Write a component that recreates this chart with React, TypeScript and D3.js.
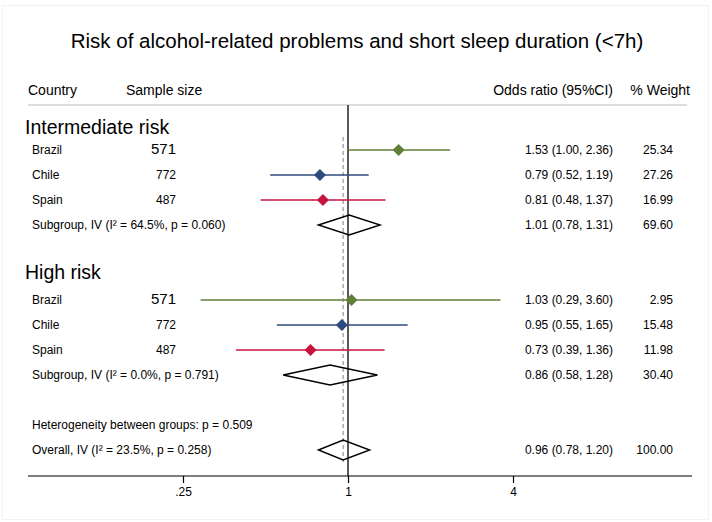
import React, { useEffect, useRef } from 'react';
import * as d3 from 'd3';

const countries = ['Brazil', 'Chile', 'Spain'];
const sampleSizes = ['571', '772', '487'];
const countryColors = ['#5f7f3a', '#2c4a7e', '#c8133f'];

const groups = ['Intermediate risk', 'High risk'];
const orIntermediate = [1.53, 0.79, 0.81];
const lowIntermediate = [1.0, 0.52, 0.48];
const highIntermediate = [2.36, 1.19, 1.37];
const weightIntermediate = ['25.34', '27.26', '16.99'];

const orHigh = [1.03, 0.95, 0.73];
const lowHigh = [0.29, 0.55, 0.39];
const highHigh = [3.6, 1.65, 1.36];
const weightHigh = ['2.95', '15.48', '11.98'];

// subgroup pooled: [or, low, high]
const subgroupIntermediate = [1.01, 0.78, 1.31];
const subgroupHigh = [0.86, 0.58, 1.28];
const overall = [0.96, 0.78, 1.2];
const subgroupWeights = ['69.60', '30.40'];
const subgroupLabels = [
  'Subgroup, IV (I² = 64.5%, p = 0.060)',
  'Subgroup, IV (I² = 0.0%, p = 0.791)',
];
const heterogeneityLabel = 'Heterogeneity between groups: p = 0.509';
const overallLabel = 'Overall, IV (I² = 23.5%, p = 0.258)';

const xTicks = [0.25, 1, 4];
const xTickLabels = ['.25', '1', '4'];

const fmt = (v: number) => v.toFixed(2);

export default function App() {
  const ref = useRef<SVGSVGElement>(null);

  useEffect(() => {
    const width = 712;
    const height = 522;
    const fs = 12;
    const svg = d3.select(ref.current);
    svg.selectAll('*').remove();

    const font = 'Liberation Sans, Arial, Helvetica, sans-serif';
    svg.attr('font-family', font);

    // light outer frame
    svg.append('rect')
      .attr('x', 2.5).attr('y', 5.5)
      .attr('width', width - 6).attr('height', height - 8)
      .attr('fill', '#fff').attr('stroke', '#eef3f3');

    const x = d3.scaleLog().base(2).domain([0.25, 4]).range([183, 513]);
    const row = d3.scaleLinear().domain([0, 1]).range([125, 150]);

    svg.append('text')
      .attr('x', 357).attr('y', 40)
      .attr('text-anchor', 'middle').attr('dominant-baseline', 'central')
      .attr('font-size', 20.5)
      .text('Risk of alcohol-related problems and short sleep duration (<7h)');

    // headers
    const hdr = svg.append('g').attr('font-size', 14);
    hdr.append('text').attr('x', 28).attr('y', 90).attr('dominant-baseline', 'central').text('Country');
    hdr.append('text').attr('x', 126).attr('y', 90).attr('dominant-baseline', 'central').text('Sample size');
    hdr.append('text').attr('x', 613).attr('y', 90).attr('text-anchor', 'end').attr('dominant-baseline', 'central').text('Odds ratio (95%CI)');
    hdr.append('text').attr('x', 690).attr('y', 90).attr('text-anchor', 'end').attr('dominant-baseline', 'central').text('% Weight');

    svg.append('line')
      .attr('x1', 28).attr('x2', 687).attr('y1', 105).attr('y2', 105)
      .attr('stroke', '#bbb').attr('stroke-width', 1);

    // dashed overall line
    svg.append('line')
      .attr('x1', x(overall[0])).attr('x2', x(overall[0]))
      .attr('y1', 137).attr('y2', 462)
      .attr('stroke', '#aaa').attr('stroke-width', 1.5).attr('stroke-dasharray', '4,3');

    // null line
    svg.append('line')
      .attr('x1', x(1)).attr('x2', x(1)).attr('y1', 105).attr('y2', 476)
      .attr('stroke', '#000').attr('stroke-width', 1.3);

    const diamond = (cx: number, cy: number, r: number) =>
      `M${cx - r},${cy}L${cx},${cy - r}L${cx + r},${cy}L${cx},${cy + r}Z`;

    const drawGroup = (
      gi: number, start: number,
      or: number[], lo: number[], hi: number[], w: string[], sub: number[],
    ) => {
      svg.append('text')
        .attr('x', 25).attr('y', row(start) + (gi === 0 ? 2 : -3))
        .attr('dominant-baseline', 'central').attr('font-size', 19.5)
        .text(groups[gi]);
      countries.forEach((c, i) => {
        const y = row(start + 1 + i);
        svg.append('text').attr('x', 32).attr('y', y).attr('dominant-baseline', 'central')
          .attr('font-size', fs).text(c);
        svg.append('text').attr('x', 176).attr('y', i === 0 ? y - 2 : y)
          .attr('dominant-baseline', 'central').attr('text-anchor', 'end')
          .attr('font-size', i === 0 ? 15 : fs).text(sampleSizes[i]);
        svg.append('line')
          .attr('x1', x(lo[i])).attr('x2', x(hi[i])).attr('y1', y).attr('y2', y)
          .attr('stroke', countryColors[i]).attr('stroke-width', 1.6);
        svg.append('path').attr('d', diamond(x(or[i]), y, 6))
          .attr('fill', countryColors[i]);
        svg.append('text').attr('x', 613).attr('y', y).attr('text-anchor', 'end')
          .attr('dominant-baseline', 'central').attr('font-size', fs)
          .text(`${fmt(or[i])} (${fmt(lo[i])}, ${fmt(hi[i])})`);
        svg.append('text').attr('x', 673).attr('y', y).attr('text-anchor', 'end')
          .attr('dominant-baseline', 'central').attr('font-size', fs).text(w[i]);
      });
      const ys = row(start + 4);
      svg.append('text').attr('x', 32).attr('y', ys).attr('dominant-baseline', 'central')
        .attr('font-size', fs).text(subgroupLabels[gi]);
      svg.append('path')
        .attr('d', `M${x(sub[1])},${ys}L${x(sub[0])},${ys - 10}L${x(sub[2])},${ys}L${x(sub[0])},${ys + 10}Z`)
        .attr('fill', 'none').attr('stroke', '#000').attr('stroke-width', 1.4);
      svg.append('text').attr('x', 613).attr('y', ys).attr('text-anchor', 'end')
        .attr('dominant-baseline', 'central').attr('font-size', fs)
        .text(`${fmt(sub[0])} (${fmt(sub[1])}, ${fmt(sub[2])})`);
      svg.append('text').attr('x', 673).attr('y', ys).attr('text-anchor', 'end')
        .attr('dominant-baseline', 'central').attr('font-size', fs).text(subgroupWeights[gi]);
    };

    drawGroup(0, 0, orIntermediate, lowIntermediate, highIntermediate, weightIntermediate, subgroupIntermediate);
    drawGroup(1, 6, orHigh, lowHigh, highHigh, weightHigh, subgroupHigh);

    const yh = row(12);
    svg.append('text').attr('x', 32).attr('y', yh).attr('dominant-baseline', 'central')
      .attr('font-size', fs).text(heterogeneityLabel);

    const yo = row(13);
    svg.append('text').attr('x', 32).attr('y', yo).attr('dominant-baseline', 'central')
      .attr('font-size', fs).text(overallLabel);
    svg.append('path')
      .attr('d', `M${x(overall[1])},${yo}L${x(overall[0])},${yo - 10}L${x(overall[2])},${yo}L${x(overall[0])},${yo + 10}Z`)
      .attr('fill', 'none').attr('stroke', '#000').attr('stroke-width', 1.4);
    svg.append('text').attr('x', 613).attr('y', yo).attr('text-anchor', 'end')
      .attr('dominant-baseline', 'central').attr('font-size', fs)
      .text(`${fmt(overall[0])} (${fmt(overall[1])}, ${fmt(overall[2])})`);
    svg.append('text').attr('x', 673).attr('y', yo).attr('text-anchor', 'end')
      .attr('dominant-baseline', 'central').attr('font-size', fs).text('100.00');

    // x axis
    const axisY = 476;
    svg.append('line').attr('x1', 28).attr('x2', 692).attr('y1', axisY).attr('y2', axisY)
      .attr('stroke', '#000').attr('stroke-width', 1.2);
    const ax = svg.append('g').attr('transform', `translate(0,${axisY})`)
      .call(d3.axisBottom(x).tickValues(xTicks).tickSize(7).tickPadding(4)
        .tickFormat((_, i) => xTickLabels[i]));
    ax.select('.domain').remove();
    ax.selectAll('line').attr('stroke', '#000').attr('stroke-width', 1.2);
    ax.selectAll('text').attr('font-size', fs).attr('font-family', font).attr('fill', '#000');
  }, []);

  return (
    <svg ref={ref} width={712} height={522}
      style={{ position: 'absolute', left: 0, top: 0, background: '#fff' }} />
  );
}
